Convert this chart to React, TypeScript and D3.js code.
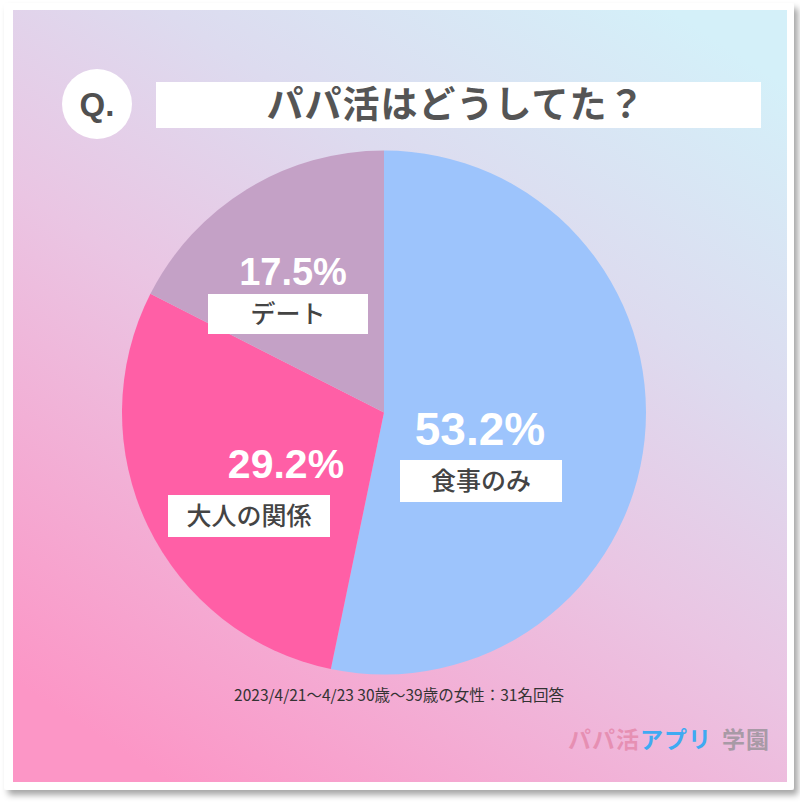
import React from "react";
import * as d3 from "d3";

const categories = ["食事のみ", "大人の関係", "デート"];
const values = [53.2, 29.2, 17.5];
const valueLabels = ["53.2%", "29.2%", "17.5%"];
const colors = ["#9dc4fc", "#ff5fa6", "#c4a1c6"];
const title = "パパ活はどうしてた？";
const footnote = "2023/4/21～4/23 30歳～39歳の女性：31名回答";

const FONT = "'Noto Sans CJK JP', 'Noto Sans', sans-serif";
const NUMFONT = "'Liberation Sans', Arial, sans-serif";

export default function App() {
  const W = 800, H = 808;
  const cx = 384, cy = 412.5, R = 262;
  const pie = d3.pie<number>().sort(null).value((d) => d)(values);
  const arc = d3.arc<d3.PieArcDatum<number>>().innerRadius(0).outerRadius(R);

  const labelPos = [
    { px: 480, py: 445, fs: 46, bx: 400, by: 460, bw: 162, bh: 42 },
    { px: 286, py: 478, fs: 41, bx: 168, by: 495, bw: 162, bh: 42 },
    { px: 293, py: 285, fs: 38, bx: 208, by: 294, bw: 160, bh: 40 },
  ];

  return (
    <svg width={W} height={H} style={{ position: "absolute", left: 0, top: 0 }}>
      <defs>
        <linearGradient id="bg" x1="0.85" y1="0" x2="0.2" y2="1">
          <stop offset="0" stopColor="#d4f0f9" />
          <stop offset="0.3" stopColor="#dddbef" />
          <stop offset="0.55" stopColor="#eac5e3" />
          <stop offset="1" stopColor="#fc96c6" />
        </linearGradient>
        <filter id="shadow" x="-5%" y="-5%" width="115%" height="115%">
          <feDropShadow dx="4" dy="5" stdDeviation="3" floodColor="#000" floodOpacity="0.35" />
        </filter>
      </defs>
      <rect x={0} y={0} width={W} height={H} fill="#ffffff" />
      <rect x={4} y={3} width={790} height={787} rx={3} fill="#ffffff" filter="url(#shadow)" />
      <rect x={13} y={10} width={774} height={772} fill="url(#bg)" />

      {/* Q circle */}
      <circle cx={97} cy={104} r={35} fill="#ffffff" />
      <text x={97} y={116} textAnchor="middle" fontFamily={NUMFONT} fontWeight={700} fontSize={33} fill="#505050">Q.</text>

      {/* title box */}
      <rect x={156} y={82} width={605} height={46} fill="#ffffff" />
      <text x={456} y={118} textAnchor="middle" fontFamily={FONT} fontWeight={700} fontSize={37} letterSpacing={1} fill="#555555">{title}</text>

      {/* pie */}
      <g transform={`translate(${cx},${cy})`}>
        {pie.map((p, i) => (
          <path key={categories[i]} d={arc(p) || ""} fill={colors[i]} />
        ))}
      </g>

      {/* labels */}
      {pie.map((p, i) => {
        const l = labelPos[i];
        return (
          <g key={"lab" + i}>
            <text x={l.px} y={l.py} textAnchor="middle" fontFamily={NUMFONT} fontWeight={700} fontSize={l.fs} fill="#ffffff">
              {valueLabels[i]}
            </text>
            <rect x={l.bx} y={l.by} width={l.bw} height={l.bh} fill="#ffffff" />
            <text x={l.bx + l.bw / 2} y={l.by + l.bh / 2 + 9} textAnchor="middle" fontFamily={FONT} fontWeight={500} fontSize={25} fill="#444444">
              {categories[i]}
            </text>
          </g>
        );
      })}

      {/* footnote */}
      <text x={399} y={701} textAnchor="middle" fontFamily={FONT} fontSize={15.5} fill="#333333">{footnote}</text>

      {/* logo */}
      <text x={568} y={748} fontFamily={FONT} fontWeight={700} fontSize={23} letterSpacing={1}>
        <tspan fill="#e589ac" fillOpacity={0.85}>パパ活</tspan>
        <tspan fill="#3faaf2">アプリ</tspan>
        <tspan fill="#a89aa6" dx={10}>学園</tspan>
      </text>
    </svg>
  );
}
